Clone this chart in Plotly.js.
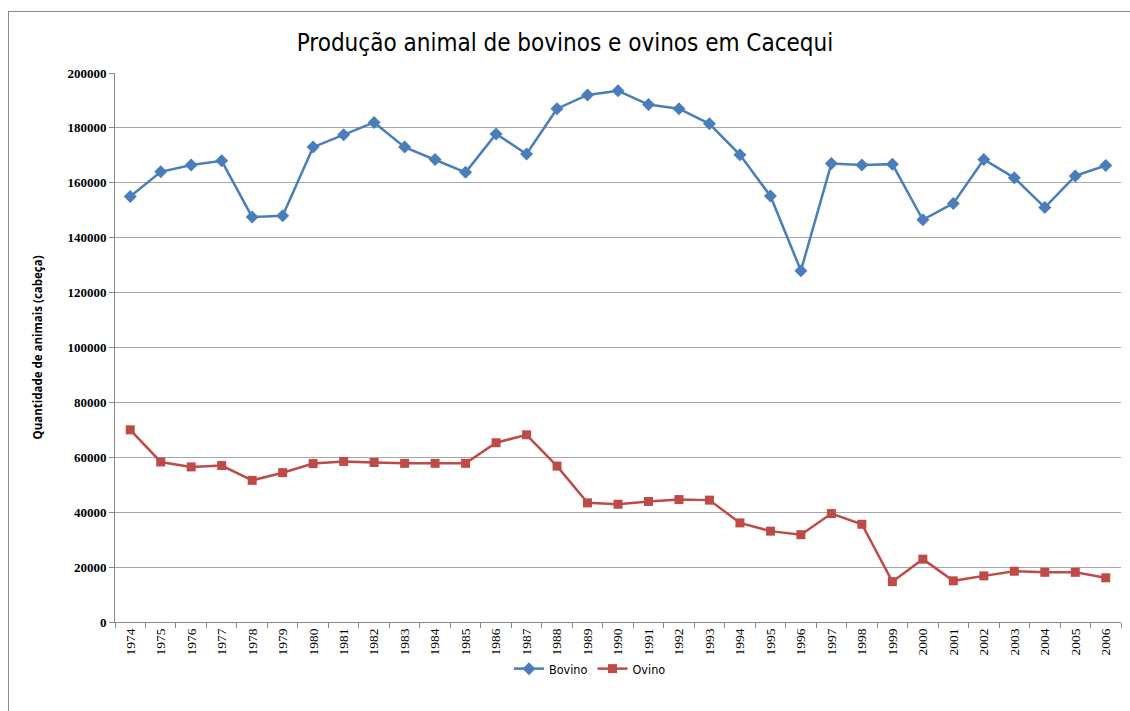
<!DOCTYPE html>
<html>
<head>
<meta charset="utf-8">
<script src="https://cdn.plot.ly/plotly-3.0.1.min.js"></script>
<style>
html,body{margin:0;padding:0;background:#fff;}
#frame{position:absolute;left:8px;top:11px;width:1130px;height:720px;border-left:1px solid #8c8c8c;border-top:1px solid #8c8c8c;}
#chart{position:absolute;left:0;top:0;width:1130px;height:711px;}
</style>
</head>
<body>
<div id="frame"></div>
<div id="chart"></div>
<script>
const years = ["1974","1975","1976","1977","1978","1979","1980","1981","1982","1983","1984","1985","1986","1987","1988","1989","1990","1991","1992","1993","1994","1995","1996","1997","1998","1999","2000","2001","2002","2003","2004","2005","2006"];
const bovino = [155000,164000,166500,168000,147500,148000,173000,177500,182000,173000,168500,163800,177800,170500,187000,192000,193500,188500,187000,181500,170200,155200,128000,167000,166500,166800,146500,152500,168500,161800,151000,162500,166300];
const ovino = [70000,58300,56500,57000,51600,54400,57700,58500,58100,57800,57800,57800,65300,68200,56800,43400,42900,43900,44600,44400,36100,33100,31800,39500,35600,14700,22900,15000,16800,18500,18100,18100,16100];
const yTicks = [0,20000,40000,60000,80000,100000,120000,140000,160000,180000,200000];

const traces = [
  {x: years, y: bovino, name: "Bovino", type: "scatter", mode: "lines+markers",
   line: {color: "#4A7EBB", width: 2.5},
   marker: {symbol: "diamond", size: 10, color: "#4A7EBB"}},
  {x: years, y: ovino, name: "Ovino", type: "scatter", mode: "lines+markers",
   line: {color: "#BE4B48", width: 2.5},
   marker: {symbol: "square", size: 9, color: "#BE4B48"}}
];

const layout = {
  width: 1130, height: 711,
  paper_bgcolor: "rgba(0,0,0,0)", plot_bgcolor: "rgba(0,0,0,0)",
  margin: {l: 115, r: 9, t: 73, b: 89},
  title: {text: "Produção animal de bovinos e ovinos em Cacequi",
    font: {family: "'DejaVu Sans Condensed', 'DejaVu Sans', sans-serif", size: 24, color: "#000"},
    x: 0.5, xref: "container", xanchor: "center", y: 1 - 43/711, yref: "container", yanchor: "middle"},
  xaxis: {type: "category", range: [-0.5, 32.5], tickangle: -90,
    tickson: "boundaries", ticks: "outside", ticklen: 5, tickcolor: "#888",
    showline: true, linecolor: "#888", linewidth: 1, showgrid: false,
    tickfont: {family: "'Liberation Serif', 'DejaVu Serif', serif", size: 13.5, color: "#000"}},
  yaxis: {range: [0, 200000], tickvals: yTicks, ticktext: yTicks.map(String),
    ticks: "outside", ticklen: 5, tickcolor: "#888",
    showline: true, linecolor: "#888", linewidth: 1,
    showgrid: true, gridcolor: "#A6A6A6", gridwidth: 1, zeroline: false,
    tickfont: {family: "'Liberation Serif', 'DejaVu Serif', serif", size: 13, color: "#000", weight: "bold"}},
  legend: {orientation: "h", xref: "container", yref: "container", x: 590/1130, xanchor: "center",
    y: 1 - 669/711, yanchor: "middle",
    font: {family: "'DejaVu Sans Condensed', 'DejaVu Sans', sans-serif", size: 12.5, color: "#000"}},
  annotations: [{text: "Quantidade de animais (cabeça)", textangle: -90,
    xref: "paper", yref: "paper", x: (37-115)/1006, y: 0.5, xanchor: "center", yanchor: "middle",
    showarrow: false, font: {family: "Open Sans, sans-serif", size: 11.5, color: "#000", weight: "bold"}}]
};

Plotly.newPlot("chart", traces, layout, {displayModeBar: false, staticPlot: true});
</script>
</body>
</html>
